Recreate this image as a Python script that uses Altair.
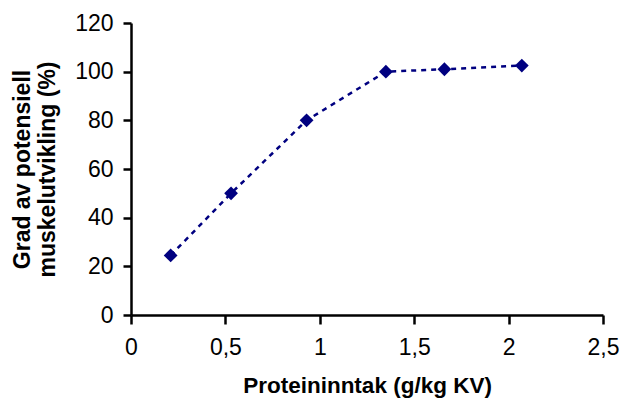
import altair as alt
import pandas as pd

protein = [0.21, 0.53, 0.93, 1.35, 1.66, 2.07]
muscle = [24.5, 50, 80, 100, 101, 102.5]
x_ticks = [0, 0.5, 1, 1.5, 2, 2.5]
y_ticks = [0, 20, 40, 60, 80, 100, 120]

df = pd.DataFrame({"x": protein, "y": muscle})

FONT = "Liberation Sans"
NAVY = "#000080"

x_enc = alt.X(
    "x:Q",
    scale=alt.Scale(domain=[0, 2.5], nice=False, zero=True),
    axis=alt.Axis(
        values=x_ticks,
        title="Proteininntak (g/kg KV)",
        labelExpr="replace(format(datum.value, '.2~f'), '.', ',')",
        grid=False,
        domainColor="black",
        domainWidth=2.5,
        tickColor="black",
        tickWidth=2.5,
        tickSize=9,
        labelFont=FONT,
        labelFontSize=23,
        labelColor="black",
        labelPadding=12,
        labelFlush=False,
        labelOverlap=False,
        titleFont=FONT,
        titleFontSize=22.5,
        titleFontWeight="bold",
        titleColor="black",
        titleBaseline="alphabetic",
        titleX=236,
        titleY=77,
        titleAlign="center",
    ),
)

y_enc = alt.Y(
    "y:Q",
    scale=alt.Scale(domain=[0, 120], nice=False),
    axis=alt.Axis(
        values=y_ticks,
        title=["Grad av potensiell", "muskelutvikling (%)"],
        grid=False,
        domainColor="black",
        domainWidth=2.5,
        tickColor="black",
        tickWidth=2.5,
        tickSize=8,
        labelFont=FONT,
        labelFontSize=23,
        labelColor="black",
        labelPadding=10,
        labelFlush=False,
        labelOverlap=False,
        titleFont=FONT,
        titleFontSize=23,
        titleFontWeight="bold",
        titleColor="black",
        titleAngle=270,
        titleBaseline="alphabetic",
        titleAlign="center",
        titleX=-102,
        titleY=146,
        titleLineHeight=25,
    ),
)

line = alt.Chart(df).mark_line(
    color=NAVY, strokeWidth=2.5, strokeDash=[5, 5]
).encode(x=x_enc, y=y_enc)

points = alt.Chart(df).mark_point(
    shape="diamond", filled=True, color=NAVY, size=190, opacity=1
).encode(x="x:Q", y="y:Q")

chart = (
    alt.layer(line, points)
    .properties(
        width=472,
        height=292,
        autosize=alt.AutoSizeParams(type="none"),
        padding={"left": 131, "top": 23, "right": 35, "bottom": 97},
        background="white",
    )
    .configure_view(stroke=None)
)

chart.save("out.html", embed_options={"renderer": "svg", "actions": False})
